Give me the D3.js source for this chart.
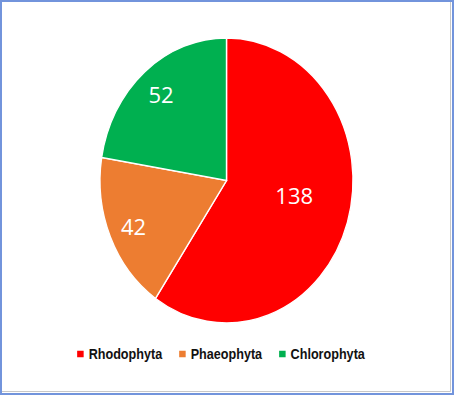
<!DOCTYPE html>
<html>
<head>
<meta charset="utf-8">
<script src="https://d3js.org/d3.v7.min.js"></script>
<style>
  html, body { margin: 0; padding: 0; background: #fff; }
  svg { display: block; }
</style>
</head>
<body>
<div id="chart"></div>
<script>
// chart data
const categories = ["Rhodophyta", "Phaeophyta", "Chlorophyta"];
const counts = [138, 42, 52];
const colors = ["#ff0000", "#ed7d31", "#00b050"];

const width = 454,
  height = 396;

const svg = d3
  .select("#chart")
  .append("svg")
  .attr("width", width)
  .attr("height", height);

// frame round the chart area
svg
  .append("rect")
  .attr("x", 1)
  .attr("y", 1)
  .attr("width", width - 2)
  .attr("height", height - 3)
  .attr("fill", "#fff")
  .attr("stroke", "#7294dc")
  .attr("stroke-width", 2);
svg
  .append("path")
  .attr("d", `M ${width - 3.5} 2 V ${height - 4.5} H 2`)
  .attr("fill", "none")
  .attr("stroke", "#c8c8c8")
  .attr("stroke-width", 1);

// the pie is drawn as a circle and stretched a little vertically
const cx = 226.5,
  cy = 180.5,
  rx = 126.5,
  ry = 142.5;

const pie = d3.pie().sort(null).value((d) => d.value);
const arcs = pie(categories.map((c, i) => ({ name: c, value: counts[i], color: colors[i] })));
const arc = d3.arc().innerRadius(0).outerRadius(rx);

const pieGroup = svg
  .append("g")
  .attr("transform", `translate(${cx},${cy}) scale(1,${ry / rx})`);

pieGroup
  .selectAll("path.slice")
  .data(arcs)
  .enter()
  .append("path")
  .attr("class", "slice")
  .attr("d", arc)
  .attr("fill", (d) => d.data.color)
  .attr("stroke", "#fff")
  .attr("stroke-width", 1.4)
  .attr("vector-effect", "non-scaling-stroke");

// labels: big slices nearer the middle, small ones further out
function labelPos(d) {
  const f = d.endAngle - d.startAngle > Math.PI ? 0.56 : 0.8;
  const a = (d.startAngle + d.endAngle) / 2;
  return [cx + rx * f * Math.sin(a), cy - ry * f * Math.cos(a)];
}

svg
  .selectAll("text.slice-label")
  .data(arcs)
  .enter()
  .append("text")
  .attr("class", "slice-label")
  .attr("x", (d) => labelPos(d)[0])
  .attr("y", (d) => labelPos(d)[1] - (d.endAngle - d.startAngle > Math.PI ? 9 : 0))
  .attr("text-anchor", "middle")
  .attr("dominant-baseline", "central")
  .attr("fill", "#fff")
  .style("font-family", "'Open Sans', 'Noto Sans', sans-serif")
  .style("font-size", "22px")
  .text((d) => d.data.value);

// legend
const legendY = 354,
  boxSize = 6.5,
  boxGap = 5,
  itemGap = 17,
  squeeze = 0.87; // calibri-ish narrow bold

const legend = svg.append("g").attr("class", "legend");
const items = legend
  .selectAll("g.item")
  .data(categories)
  .enter()
  .append("g")
  .attr("class", "item");

items
  .append("rect")
  .attr("y", legendY - boxSize / 2)
  .attr("width", boxSize)
  .attr("height", boxSize)
  .attr("fill", (d, i) => colors[i]);

items
  .append("text")
  .attr("transform", `translate(${boxSize + boxGap},${legendY + 5}) scale(${squeeze},1)`)
  .attr("fill", "#111")
  .style("font-family", "'Liberation Sans', Arial, sans-serif")
  .style("font-weight", "bold")
  .style("font-size", "14.5px")
  .text((d) => d);

// lay items out in a row, centred
let widths = [];
items.each(function () {
  const tw = d3.select(this).select("text").node().getComputedTextLength() * squeeze;
  widths.push(boxSize + boxGap + tw);
});
const total = d3.sum(widths) + itemGap * (widths.length - 1);
let x = 221 - total / 2;
items.each(function (d, i) {
  d3.select(this).attr("transform", `translate(${x},0)`);
  x += widths[i] + itemGap;
});
</script>
</body>
</html>
